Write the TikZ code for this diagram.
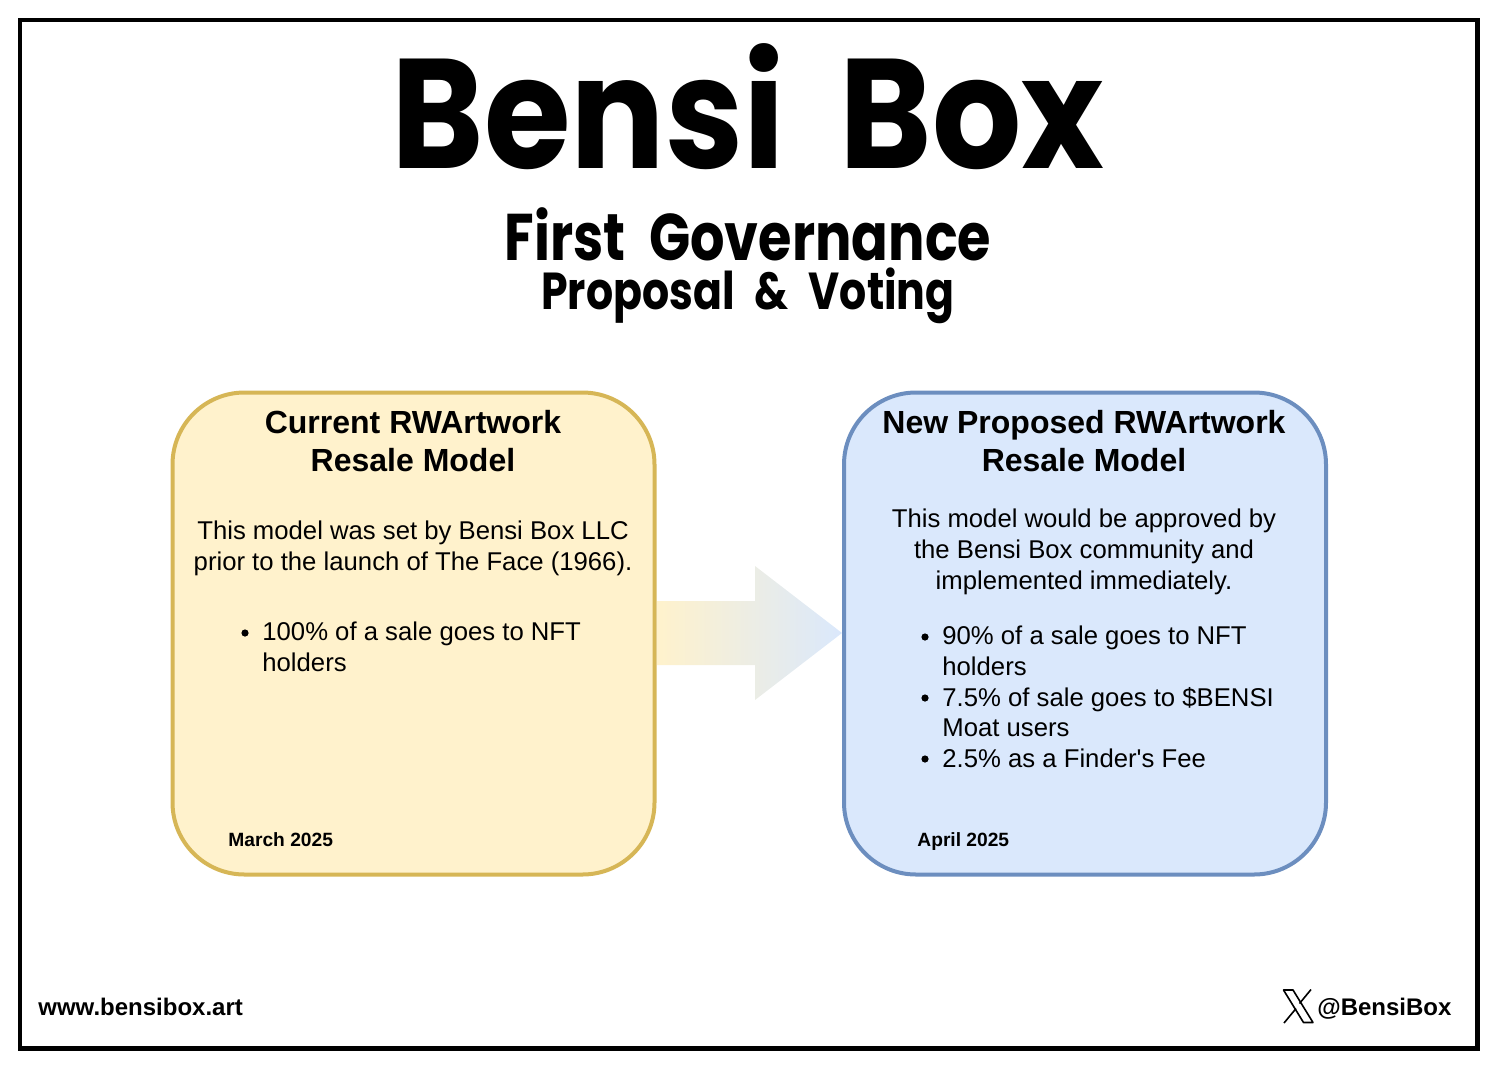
\documentclass[tikz,border=0pt]{standalone}
\usepackage{fontspec}
\setmainfont{Liberation Sans}
\newfontfamily\logofont[FakeStretch=0.9]{Poppins}
\newfontfamily\subfont[FakeStretch=0.82]{Poppins}
\definecolor{curfill}{HTML}{FFF2CC}
\definecolor{curline}{HTML}{D6B656}
\definecolor{newfill}{HTML}{DAE8FC}
\definecolor{newline}{HTML}{6C8EBF}
\tikzset{
	modelbox/.style={draw,line width=2pt,rounded corners=36pt,minimum width=241pt,minimum height=241pt,inner sep=0pt},
	headline/.style={anchor=base,font=\fontsize{16}{19}\selectfont\bfseries,inner sep=0pt},
	bodyline/.style={anchor=base,font=\fontsize{12.85}{15.5}\selectfont,inner sep=0pt},
	itemline/.style={anchor=base west,font=\fontsize{12.85}{15.5}\selectfont,inner sep=0pt},
	dateline/.style={anchor=base west,font=\fontsize{9.6}{12}\selectfont\bfseries,inner sep=0pt},
	footline/.style={anchor=base west,font=\fontsize{12}{14}\selectfont\bfseries,inner sep=0pt},
	itemdot/.style={circle,fill=black,inner sep=0pt,minimum size=3.6pt}
}
\begin{document}
\begin{tikzpicture}[x=0.5pt,y=-0.5pt]
	\useasboundingbox (0,0) rectangle (1500,1072);
	\draw[line width=2.3pt] (20,20) rectangle (1477.5,1048.5);
	\node[anchor=base,inner sep=0pt,font=\logofont\bfseries\fontsize{78}{80}\selectfont] (logo) at (748,168) {Bensi\hspace{12.5pt} Box};
	\node[anchor=base,inner sep=0pt,font=\subfont\bfseries\fontsize{33}{36}\selectfont] (title) at (748,260) {First\hspace{6pt} Governance};
	\node[anchor=base,inner sep=0pt,font=\subfont\bfseries\fontsize{26}{30}\selectfont] (subtitle) at (748,309) {Proposal\hspace{5.5pt} \&\hspace{5.5pt} Voting};
	\node[modelbox,draw=curline,fill=curfill] (curbox) at (413.5,633.5) {};
	\node[modelbox,draw=newline,fill=newfill] (newbox) at (1085,633.5) {};
	\shade[left color=curfill,right color=newfill] (657,601) -- (755,601) -- (755,566) -- (842,633) -- (755,700) -- (755,665) -- (657,665) -- cycle;
	\node[headline] (curhead) at (413,433) {Current RWArtwork};
	\node[headline] (curheadb) at (413,471) {Resale Model};
	\node[bodyline] (curtext) at (413,539) {This model was set by Bensi Box LLC};
	\node[bodyline] (curtextb) at (413,570) {prior to the launch of The Face (1966).};
	\node[itemdot] (curdot) at (245,633) {};
	\node[itemline] (curitem) at (262,640.5) {100\% of a sale goes to NFT};
	\node[itemline] (curitemb) at (262,671) {holders};
	\node[dateline] (curdate) at (228,846) {March 2025};
	\node[headline] (newhead) at (1084,433) {New Proposed RWArtwork};
	\node[headline] (newheadb) at (1084,471) {Resale Model};
	\node[bodyline] (newtext) at (1084,527) {This model would be approved by};
	\node[bodyline] (newtextb) at (1084,558) {the Bensi Box community and};
	\node[bodyline] (newtextc) at (1084,589) {implemented immediately.};
	\node[itemdot] (newdot) at (925,637) {};
	\node[itemline] (newitem) at (942,644.5) {90\% of a sale goes to NFT};
	\node[itemline] (newitemb) at (942,675) {holders};
	\node[itemdot] (newdotb) at (925,698) {};
	\node[itemline] (newitemc) at (942,706) {7.5\% of sale goes to \$BENSI};
	\node[itemline] (newitemd) at (942,736) {Moat users};
	\node[itemdot] (newdotc) at (925,759) {};
	\node[itemline] (newiteme) at (942,767) {2.5\% as a Finder\textquotesingle s Fee};
	\node[dateline] (newdate) at (917,846) {April 2025};
	\node[footline] (website) at (38,1015) {www.bensibox.art};
	\node[footline] (handle) at (1317,1015) {@BensiBox};
	\draw[line width=0.8pt,line join=round] (1283.5,990) -- (1293,990) -- (1313,1022.5) -- (1303.5,1022.5) -- cycle;
	\draw[line width=0.8pt] (1311,989.5) -- (1299.5,1003.5);
	\draw[line width=0.8pt] (1284,1023) -- (1296,1008.5);
\end{tikzpicture}
\end{document}
